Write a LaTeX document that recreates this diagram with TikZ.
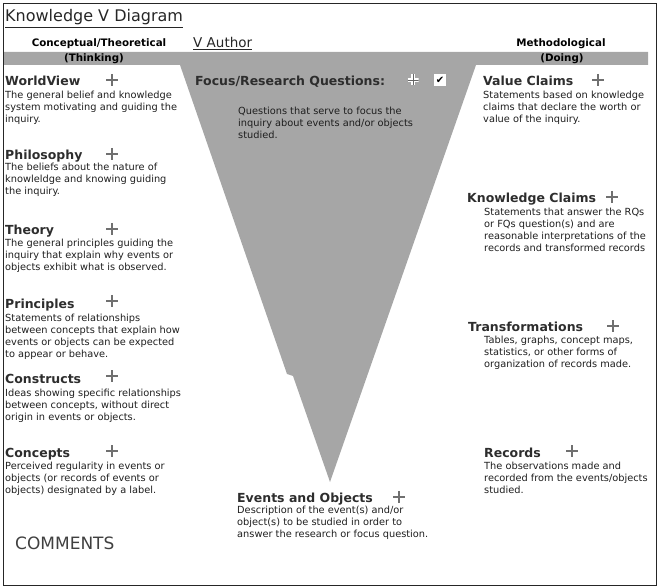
\documentclass[tikz,border=0pt]{standalone}
\usepackage{fontspec}
\setmainfont{DejaVu Sans}
\definecolor{vgray}{RGB}{166,166,166}
\definecolor{txt}{RGB}{30,30,30}
\definecolor{ttlc}{RGB}{45,45,45}
\definecolor{plusc}{RGB}{112,112,112}
\tikzset{
  desc/.style={anchor=north west, inner sep=0pt, align=left, text=txt,
    font=\fontsize{9.8}{11.8}\selectfont},
  ttl/.style={anchor=base west, inner sep=0pt, text=ttlc,
    font=\fontsize{12.5}{14}\selectfont\bfseries},
  hdr/.style={anchor=base, inner sep=0pt, text=black,
    font=\fontsize{10.3}{12}\selectfont\bfseries},
  plusico/.style={minimum size=12pt, inner sep=0pt,
    path picture={\draw[plusc, line width=2.7pt]
      (path picture bounding box.west) -- (path picture bounding box.east)
      (path picture bounding box.north) -- (path picture bounding box.south);}},
  lightplus/.style={minimum size=11pt, inner sep=0pt,
    path picture={\draw[white, line width=3.4pt]
      (path picture bounding box.west) -- (path picture bounding box.east)
      (path picture bounding box.north) -- (path picture bounding box.south);
      \draw[black!60, line width=0.8pt]
      (path picture bounding box.west) -- (path picture bounding box.east)
      (path picture bounding box.north) -- (path picture bounding box.south);}},
  chkbox/.style={fill=white, minimum size=12pt, inner sep=0pt,
    font=\fontsize{10}{10}\selectfont},
}
\begin{document}
\begin{tikzpicture}[x=1pt,y=-1pt]
\useasboundingbox (0,0) rectangle (659,588);
% gray band and V
\fill[vgray] (3,52) -- (648,52) -- (648,65) -- (476,65) -- (330,482)
  -- (293,376) -- (287,374) -- (180,65) -- (3,65) -- cycle;
% frame
\draw[line width=1.5pt, black!85] (3.5,3.5) rectangle (656.5,585.5);

% title and headers
\node[anchor=base west, inner sep=0pt, text=black!85, font=\fontsize{16}{18}\selectfont]
  (title) at (5,22) {\underline{Knowledge V Diagram}};
\node[hdr] (concept) at (99,47) {Conceptual/Theoretical};
\node[hdr] (thinking) at (94,62) {(Thinking)};
\node[anchor=base west, inner sep=0pt, text=black!85, font=\fontsize{13.5}{15}\selectfont]
  (vauthor) at (193,48) {\underline{V Author}};
\node[hdr] (method) at (561,47) {Methodological};
\node[hdr] (doing) at (562,62) {(Doing)};

% left column
\node[ttl] (worldview) at (5,85.5) {WorldView};
\node[plusico] (pworld) at (112,80) {};
\node[desc] (dworld) at (5,91) {The general belief and knowledge\\system motivating and guiding the\\inquiry.};

\node[ttl] (philo) at (5,159.5) {Philosophy};
\node[plusico] (pphilo) at (112,154) {};
\node[desc] (dphilo) at (5,163) {The beliefs about the nature of\\knowleldge and knowing guiding\\the inquiry.};

\node[ttl] (theory) at (5,234.5) {Theory};
\node[plusico] (ptheory) at (112,229) {};
\node[desc] (dtheory) at (5,239) {The general principles guiding the\\inquiry that explain why events or\\objects exhibit what is observed.};

\node[ttl] (princ) at (5,308.5) {Principles};
\node[plusico] (pprinc) at (112,301) {};
\node[desc] (dprinc) at (5,314) {Statements of relationships\\between concepts that explain how\\events or objects can be expected\\to appear or behave.};

\node[ttl] (constr) at (5,383.5) {Constructs};
\node[plusico] (pconstr) at (112,376) {};
\node[desc] (dconstr) at (5,389) {Ideas showing specific relationships\\between concepts, without direct\\origin in events or objects.};

\node[ttl] (concepts) at (5,457.5) {Concepts};
\node[plusico] (pconcepts) at (112,451) {};
\node[desc] (dconcepts) at (5,462) {Perceived regularity in events or\\objects (or records of events or\\objects) designated by a label.};

\node[anchor=base west, inner sep=0pt, text=black!75, font=\fontsize{17}{19}\selectfont]
  (comments) at (15,549) {COMMENTS};

% middle
\node[ttl] (focus) at (195,85.5) {Focus/Research Questions:};
\node[lightplus] (pfocus) at (413,80) {};
\node[chkbox] (chk) at (440,80) {✔};
\node[desc] (dfocus) at (238,107) {Questions that serve to focus the\\inquiry about events and/or objects\\studied.};

\node[ttl] (events) at (237,502.5) {Events and Objects};
\node[plusico] (pevents) at (399,497) {};
\node[desc] (devents) at (237,506) {Description of the event(s) and/or\\object(s) to be studied in order to\\answer the research or focus question.};

% right column
\node[ttl] (value) at (483,85.5) {Value Claims};
\node[plusico] (pvalue) at (598,80) {};
\node[desc] (dvalue) at (483,91) {Statements based on knowledge\\claims that declare the worth or\\value of the inquiry.};

\node[ttl] (know) at (467,203) {Knowledge Claims};
\node[plusico] (pknow) at (612,197) {};
\node[desc] (dknow) at (484,208) {Statements that answer the RQs\\or FQs question(s) and are\\reasonable interpretations of the\\records and transformed records};

\node[ttl] (transf) at (468,331.5) {Transformations};
\node[plusico] (ptransf) at (613,326) {};
\node[desc] (dtransf) at (484,336) {Tables, graphs, concept maps,\\statistics, or other forms of\\organization of records made.};

\node[ttl] (records) at (484,457.5) {Records};
\node[plusico] (precords) at (572,451) {};
\node[desc] (drecords) at (484,462) {The observations made and\\recorded from the events/objects\\studied.};
\end{tikzpicture}
\end{document}
